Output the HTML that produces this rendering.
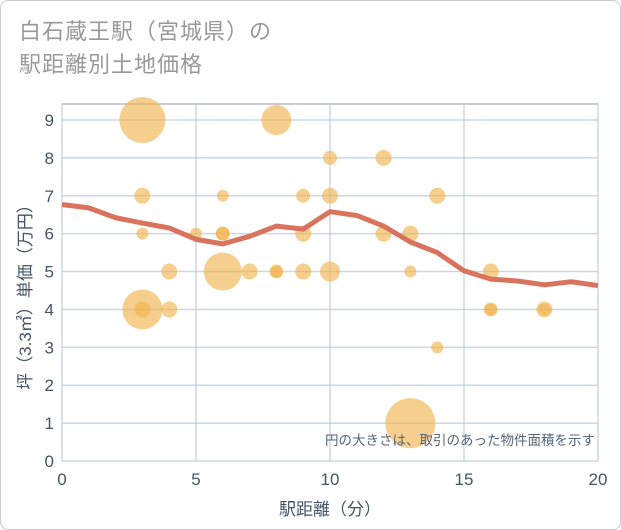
<!DOCTYPE html>
<html><head><meta charset="utf-8"><style>
body{margin:0;background:#fff;font-family:"Liberation Sans","Noto Sans CJK JP",sans-serif;}
#wrap{position:relative;width:619px;height:528px;border:1px solid #ccc;border-radius:8px;overflow:hidden;background:#fff}
#title{position:absolute;left:18px;top:14px;font-size:22px;line-height:33px;color:#999;letter-spacing:1px}
svg{position:absolute;left:0;top:0}
</style></head><body>
<div id="wrap">
<div id="title">白石蔵王駅（宮城県）の<br>駅距離別土地価格</div>
<svg id="chart" width="621" height="530"></svg>
</div>
<script>
const xTicks=[0,5,10,15,20];
const yTicks=[0,1,2,3,4,5,6,7,8,9];
const bubbleX=[3,8,10,12,3,6,9,10,14,3,5,6,6,9,12,13,4,6,7,8,8,9,10,13,16,3,3,4,16,16,18,18,14,13];
const bubbleY=[9,9,8,8,7,7,7,7,7,6,6,6,6,6,6,6,5,5,5,5,5,5,5,5,5,4,4,4,4,4,4,4,3,1];
const bubbleR=[23,15,7,8,8,6,7,8,8,6,6,7,7,8,8,8,8,19,8,7,6,8,10,6,8,20,8,8,7,6,8,6,6,25];
const lineX=[0,1,2,3,4,5,6,7,8,9,10,11,12,13,14,15,16,17,18,19,20];
const lineY=[6.77,6.68,6.42,6.28,6.15,5.85,5.73,5.93,6.2,6.12,6.58,6.48,6.2,5.78,5.5,5.02,4.8,4.75,4.65,4.73,4.63];
const L=61,R=597,T=103,B=460;
const sx=v=>L+(v-0)/20*(R-L);
const sy=v=>B-v/9*(B-119);
const svg=document.getElementById('chart');
const NS='http://www.w3.org/2000/svg';
function mk(tag,attrs,parent){const e=document.createElementNS(NS,tag);for(const k in attrs)e.setAttribute(k,attrs[k]);(parent||svg).appendChild(e);return e;}
const bg=mk('rect',{x:L,y:T,width:R-L,height:B-T,fill:'#fff',stroke:'#999','stroke-width':1});


yTicks.forEach(v=>{
 const g=mk('line',{x1:L,x2:R,y1:sy(v),y2:sy(v),stroke:'#c9d8e6','stroke-width':1.5});
 
 
 const t=mk('text',{x:L-8,y:sy(v)+6,'text-anchor':'end','font-size':17,fill:'#456'});
 t.textContent=v;
 
 
});
xTicks.forEach(v=>{
 const g=mk('line',{x1:sx(v),x2:sx(v),y1:T,y2:B,stroke:'#b5c7d8','stroke-width':1});
 
 
 const t=mk('text',{x:sx(v),y:B+24,'text-anchor':'middle','font-size':17,fill:'#456'});
 t.textContent=v;
 
 
});
bubbleX.forEach((x,i)=>{
 const c=mk('circle',{cx:sx(x),cy:sy(bubbleY[i]),r:bubbleR[i],fill:'rgba(240,178,75,0.62)'});
 
 
});
const pl=mk('polyline',{points:lineX.map((x,i)=>sx(x)+','+sy(lineY[i])).join(' '),fill:'none',stroke:'#d9735e','stroke-width':5,'stroke-linejoin':'round'});


const note=mk('text',{x:594,y:444,'text-anchor':'end','font-size':13.5,fill:'#567'});
note.textContent='円の大きさは、取引のあった物件面積を示す';


const xt=mk('text',{x:(L+R)/2,y:514,'text-anchor':'middle','font-size':17,fill:'#456'});
xt.textContent='駅距離（分）';


const yt=mk('text',{x:0,y:0,'text-anchor':'middle','font-size':17,fill:'#456',transform:'translate(30,292) rotate(-90)'});
yt.textContent='坪（3.3㎡）単価（万円）';


</script>
</body></html>
